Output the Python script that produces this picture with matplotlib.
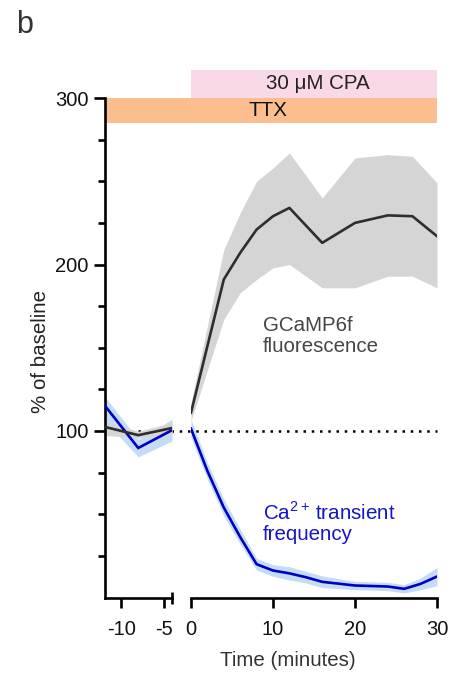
import matplotlib
matplotlib.use('Agg')
import matplotlib.pyplot as plt
from matplotlib.patches import Rectangle
from matplotlib.lines import Line2D

plt.rcParams['font.family'] = ['Liberation Sans', 'DejaVu Sans']
plt.rcParams['mathtext.fontset'] = 'custom'
plt.rcParams['mathtext.rm'] = 'Liberation Sans'
plt.rcParams['axes.unicode_minus'] = False

# ---------------- data ----------------
pre_t = [-12, -8, -4]
pre_gcamp = [102.5, 97.5, 101.8]
pre_gcamp_hi = [105.6, 99.8, 105.0]
pre_gcamp_lo = [97.4, 95.8, 98.4]
pre_freq = [115.5, 89.8, 100.5]
pre_freq_hi = [121.0, 95.0, 107.0]
pre_freq_lo = [106.0, 84.5, 94.0]

gcamp_t = [0, 4, 6, 8, 10, 12, 16, 20, 24, 27, 30]
gcamp = [111, 191, 207, 221, 229, 234, 213, 225, 229.5, 229, 217]
gcamp_hi = [117, 209, 231, 250, 258, 267, 240, 264, 266, 265, 249]
gcamp_lo = [106, 167, 183, 191, 198, 200, 186, 186, 193, 193, 186]

freq_t = [0, 2, 4, 6, 8, 10, 12, 14, 16, 18, 20, 22, 24, 26, 28, 30]
freq = [101.4, 76, 54, 36.3, 20, 16.2, 14.5, 12.2, 9.4, 8.3, 7.2, 6.9, 6.6, 5.2, 8.2, 12.6]
freq_hi = [107, 81, 59, 41, 23.5, 19.7, 18.5, 15.7, 13, 11.3, 9.7, 9.4, 9.1, 7.7, 11.7, 18.1]
freq_lo = [96, 71, 49, 32, 16.5, 12.7, 10.5, 8.7, 6, 5.3, 4.7, 4.4, 4.1, 2.7, 4.7, 7.1]

pre_xticks = [-10, -5]
pre_xticklabels = ['-10', '-5']
post_xticks = [0, 10, 20, 30]
post_xticklabels = ['0', '10', '20', '30']
yticks = [100, 200, 300]
yminor = [25, 50, 75, 125, 150, 175, 225, 250, 275]

baseline = 100
ttx_span = (-12, 30)
cpa_span = (0, 30)
ttx_band = (285, 300)
cpa_band = (300, 317)

# ---------------- style ----------------
GRAY_LINE = '#2e2e2e'
GRAY_BAND = '#d5d5d5'
BLUE_LINE = '#0000c4'
BLUE_BAND = '#c4dcf6'
TTX_COL = '#fcbd8f'
CPA_COL = '#f9d8e8'
FS_TICK = 14.5
FS = 14.8
LW_AX = 1.9

W, H = 462, 677
fig = plt.figure(figsize=(W / 100, H / 100), dpi=100)
bottom = (H - 597.5) / H
height = (597.5 - 98) / H
axL = fig.add_axes([104.5 / W, bottom, 67.5 / W, height])
axR = fig.add_axes([191 / W, bottom, 246 / W, height])

for ax in (axL, axR):
    ax.set_facecolor('none')
    ax.set_ylim(0, 300)
    for s in ('top', 'right'):
        ax.spines[s].set_visible(False)
    ax.spines['bottom'].set_linewidth(LW_AX)
    ax.spines['left'].set_linewidth(LW_AX)
axR.spines['left'].set_visible(False)

axL.set_xlim(-12, -4)
axR.set_xlim(0, 30)

# left (pre) segment
axL.fill_between(pre_t, pre_freq_lo, pre_freq_hi, color=BLUE_BAND, lw=0, zorder=1)
axL.fill_between(pre_t, pre_gcamp_lo, pre_gcamp_hi, color=GRAY_BAND, lw=0, zorder=1.2)
axL.plot(pre_t, pre_freq, color=BLUE_LINE, lw=1.9, zorder=3, solid_joinstyle='miter')
axL.plot(pre_t, pre_gcamp, color=GRAY_LINE, lw=1.9, zorder=3.2, solid_joinstyle='miter')

# right (post) segment
axR.fill_between(freq_t, freq_lo, freq_hi, color=BLUE_BAND, lw=0, zorder=1)
axR.fill_between(gcamp_t, gcamp_lo, gcamp_hi, color=GRAY_BAND, lw=0, zorder=1.2)
axR.plot(freq_t, freq, color=BLUE_LINE, lw=1.9, zorder=3)
axR.plot(gcamp_t, gcamp, color=GRAY_LINE, lw=1.9, zorder=3.2)

# map right-axis x=30 into left-axis data coordinates
disp = axR.transData.transform((ttx_span[1], baseline))
x_end_L = axL.transData.inverted().transform(disp)[0]

# dotted baseline spanning both segments
axL.add_line(Line2D([pre_t[0], x_end_L], [baseline, baseline], color='black', lw=1.8,
                    linestyle=(0, (1, 2.3)), clip_on=False, zorder=0.5))

# drug bars
axL.add_patch(Rectangle((ttx_span[0], ttx_band[0]), x_end_L - ttx_span[0], ttx_band[1] - ttx_band[0],
                        facecolor=TTX_COL, edgecolor='none', clip_on=False, zorder=0.3))
axL.text((ttx_span[0] + x_end_L) / 2 - 0.3, sum(ttx_band) / 2, 'TTX', ha='center', va='center',
         fontsize=FS, color='#111111', clip_on=False)
axR.add_patch(Rectangle((cpa_span[0], cpa_band[0]), cpa_span[1] - cpa_span[0], cpa_band[1] - cpa_band[0],
                        facecolor=CPA_COL, edgecolor='none', clip_on=False, zorder=0.3))
axR.text(sum(cpa_span) / 2 + 0.5, sum(cpa_band) / 2, '30 μM CPA', ha='center', va='center',
         fontsize=FS, color='#222222', clip_on=False)

# ticks
axL.set_yticks(yticks)
axL.set_yticks(yminor, minor=True)
axL.set_yticklabels([str(v) for v in yticks])
axL.tick_params(axis='y', which='major', length=8, width=LW_AX, pad=3.5, labelsize=FS_TICK, labelcolor='#111111')
axL.tick_params(axis='y', which='minor', length=5, width=LW_AX)
axL.set_xticks(pre_xticks)
axL.set_xticklabels(pre_xticklabels)
axL.set_xticks([-4], minor=True)
axL.tick_params(axis='x', which='major', length=7.5, width=LW_AX, pad=9, labelsize=FS_TICK, labelcolor='#111111')
axL.tick_params(axis='x', which='minor', direction='inout', length=8, width=LW_AX)

axR.set_yticks([])
axR.set_xticks(post_xticks)
axR.set_xticklabels(post_xticklabels)
axR.set_xticks([0], minor=True)
axR.tick_params(axis='x', which='major', length=7.5, width=LW_AX, pad=9, labelsize=FS_TICK, labelcolor='#111111')
axR.tick_params(axis='x', which='minor', direction='in', length=3, width=LW_AX)
axR.tick_params(axis='y', which='both', left=False, labelleft=False)

# annotations
axR.text(8.8, 157, 'GCaMP6f\nfluorescence', ha='left', va='center', fontsize=FS,
         color='#454545', linespacing=1.15)
axR.text(8.8, 45, 'Ca$^{\\mathregular{2+}}\\,$transient\nfrequency', ha='left', va='center',
         fontsize=FS, color='#1414c8', linespacing=1.1)

fig.text(40 / W, 1 - 352 / H, '% of baseline', rotation=90, ha='center', va='center',
         fontsize=FS, color='#222222')
fig.text(288 / W, 1 - 661 / H, 'Time (minutes)', ha='center', va='center',
         fontsize=FS, color='#333333')
fig.text(16 / W, 1 - 33 / H, 'b', ha='left', va='baseline', fontsize=22, color='#333333')

fig.savefig('out.png', dpi=100)
